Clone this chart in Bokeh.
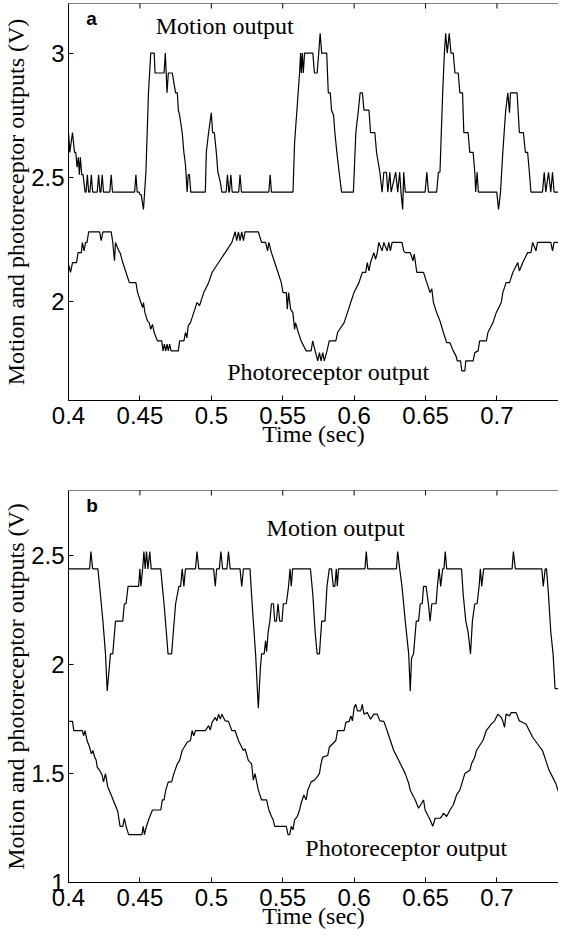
import math
from bokeh.plotting import figure
from bokeh.models import Range1d, FixedTicker, Label, Span, CustomJSTickFormatter
from bokeh.layouts import column
from bokeh.embed import file_html
from bokeh.resources import INLINE

# ---------------- data (time in s, output in V) ----------------
x_ticks = [0.4, 0.45, 0.5, 0.55, 0.6, 0.65, 0.7]
ya_ticks = [2, 2.5, 3]
yb_ticks = [1, 1.5, 2, 2.5]

# panel a: motion output
ma_t = [0.4000, 0.4009, 0.4028, 0.4042, 0.4051, 0.4060, 0.4069, 0.4076, 0.4083, 0.4093, 0.4102, 0.4116,
        0.4123, 0.4132, 0.4141, 0.4150, 0.4160, 0.4169, 0.4201, 0.4211, 0.4220, 0.4227, 0.4236, 0.4245,
        0.4289, 0.4299, 0.4308, 0.4463, 0.4472, 0.4481,
        0.4495, 0.4500, 0.4509, 0.4525, 0.4542, 0.4560, 0.4576, 0.4600, 0.4606, 0.4669, 0.4678, 0.4690,
        0.4699, 0.4727, 0.4738, 0.4750, 0.4762, 0.4769, 0.4778, 0.4796, 0.4808, 0.4819, 0.4831, 0.4838,
        0.4847, 0.4856, 0.4958, 0.4965, 0.4981, 0.5000, 0.5009, 0.5021, 0.5035, 0.5046, 0.5063, 0.5074,
        0.5104, 0.5113, 0.5123, 0.5127, 0.5137, 0.5146, 0.5192, 0.5201, 0.5211, 0.5403, 0.5412, 0.5421,
        0.5572, 0.5583, 0.5602, 0.5618, 0.5625, 0.5630, 0.5637, 0.5644, 0.5653, 0.5711, 0.5722, 0.5741,
        0.5752, 0.5762, 0.5773, 0.5808, 0.5819, 0.5833, 0.5842, 0.5856, 0.5865, 0.5879, 0.5895, 0.5912,
        0.5995, 0.6012, 0.6028, 0.6042, 0.6058, 0.6069, 0.6104, 0.6115, 0.6145, 0.6157, 0.6180, 0.6196,
        0.6208, 0.6226, 0.6236, 0.6250, 0.6259, 0.6291, 0.6305, 0.6319, 0.6328, 0.6340, 0.6347, 0.6358,
        0.6497, 0.6509, 0.6520, 0.6578, 0.6590, 0.6601, 0.6620, 0.6632, 0.6641, 0.6652, 0.6666, 0.6678,
        0.6694, 0.6706, 0.6729, 0.6740, 0.6759, 0.6768, 0.6798, 0.6810, 0.6833, 0.6845, 0.6851, 0.6861,
        0.6870, 0.6999, 0.7011, 0.7025, 0.7041, 0.7060, 0.7076, 0.7088, 0.7095, 0.7141, 0.7157, 0.7185,
        0.7199, 0.7215, 0.7227, 0.7238, 0.7319, 0.7331, 0.7342, 0.7361, 0.7377, 0.7389, 0.7400, 0.7430]
ma_v = [2.68, 2.60, 2.68, 2.60, 2.60, 2.54, 2.58, 2.51, 2.58, 2.51, 2.51, 2.44,
        2.44, 2.51, 2.44, 2.44, 2.51, 2.44, 2.44, 2.51, 2.44, 2.44, 2.51, 2.44,
        2.44, 2.51, 2.44, 2.44, 2.51, 2.44,
        2.44, 2.43, 2.43, 2.37, 2.52, 2.84, 3.00, 3.00, 2.92, 2.92, 3.00, 2.84,
        2.92, 2.92, 2.88, 2.84, 2.84, 2.77, 2.75, 2.68, 2.60, 2.55, 2.44, 2.51,
        2.51, 2.44, 2.44, 2.60, 2.68, 2.76, 2.68, 2.68, 2.60, 2.52, 2.48, 2.44,
        2.44, 2.51, 2.44, 2.44, 2.51, 2.44, 2.44, 2.51, 2.44, 2.44, 2.51, 2.44,
        2.44, 2.64, 2.79, 2.92, 3.00, 2.92, 3.00, 2.92, 3.00, 3.00, 2.92, 2.92,
        3.00, 3.08, 3.00, 3.00, 2.84, 2.84, 2.77, 2.75, 2.68, 2.60, 2.52, 2.44,
        2.44, 2.68, 2.76, 2.84, 2.84, 2.77, 2.77, 2.68, 2.68, 2.60, 2.52, 2.44,
        2.52, 2.52, 2.44, 2.52, 2.44, 2.52, 2.44, 2.52, 2.44, 2.37, 2.52, 2.44,
        2.44, 2.52, 2.44, 2.44, 2.52, 2.52, 2.84, 3.00, 3.08, 3.00, 3.08, 3.00,
        3.00, 2.92, 2.92, 2.84, 2.84, 2.68, 2.68, 2.60, 2.60, 2.52, 2.44, 2.52,
        2.44, 2.44, 2.37, 2.44, 2.60, 2.76, 2.84, 2.76, 2.84, 2.84, 2.68, 2.68,
        2.60, 2.60, 2.52, 2.44, 2.44, 2.52, 2.44, 2.52, 2.44, 2.52, 2.44, 2.44]

# panel a: photoreceptor output
pa_t = [0.4000, 0.4014, 0.4028, 0.4056, 0.4067, 0.4090, 0.4097, 0.4109, 0.4120, 0.4130, 0.4141, 0.4218,
        0.4229, 0.4241, 0.4299, 0.4310, 0.4322, 0.4329, 0.4352, 0.4361, 0.4380, 0.4403, 0.4426, 0.4472,
        0.4484, 0.4507, 0.4519, 0.4525, 0.4535, 0.4553, 0.4565, 0.4576, 0.4588, 0.4600, 0.4623, 0.4653,
        0.4662, 0.4671, 0.4681, 0.4690, 0.4699, 0.4708, 0.4718, 0.4769, 0.4778, 0.4808, 0.4819, 0.4829,
        0.4838, 0.4854, 0.4877, 0.4900, 0.4917, 0.4947, 0.4981, 0.5005, 0.5051, 0.5097, 0.5144, 0.5167,
        0.5178, 0.5190, 0.5201, 0.5213, 0.5225, 0.5236, 0.5329, 0.5352, 0.5380, 0.5394, 0.5403, 0.5421,
        0.5444, 0.5467, 0.5490, 0.5502, 0.5525, 0.5532, 0.5541, 0.5555, 0.5571, 0.5583, 0.5590, 0.5606,
        0.5629, 0.5664, 0.5699, 0.5710, 0.5727, 0.5745, 0.5757, 0.5768, 0.5780, 0.5791, 0.5810, 0.5826,
        0.5872, 0.5884, 0.5930, 0.5953, 0.5976, 0.5999, 0.6034, 0.6057, 0.6081, 0.6092, 0.6104, 0.6115,
        0.6138, 0.6150, 0.6162, 0.6173, 0.6196, 0.6208, 0.6231, 0.6243, 0.6254, 0.6266, 0.6335, 0.6347,
        0.6358, 0.6393, 0.6412, 0.6421, 0.6439, 0.6486, 0.6509, 0.6532, 0.6544, 0.6555, 0.6578, 0.6601,
        0.6625, 0.6648, 0.6671, 0.6694, 0.6713, 0.6722, 0.6745, 0.6754, 0.6775, 0.6782, 0.6833, 0.6845,
        0.6868, 0.6879, 0.6926, 0.6937, 0.6972, 0.6995, 0.7030, 0.7041, 0.7064, 0.7088, 0.7111, 0.7146,
        0.7157, 0.7181, 0.7215, 0.7238, 0.7250, 0.7273, 0.7284, 0.7377, 0.7389, 0.7400, 0.7430]
pa_v = [2.149, 2.116, 2.156, 2.156, 2.196, 2.196, 2.237, 2.203, 2.237, 2.237, 2.280, 2.280,
        2.244, 2.280, 2.280, 2.237, 2.163, 2.237, 2.203, 2.196, 2.156, 2.116, 2.075, 2.075,
        2.035, 1.995, 1.975, 1.995, 1.954, 1.921, 1.914, 1.887, 1.907, 1.874, 1.840, 1.840,
        1.800, 1.827, 1.800, 1.827, 1.800, 1.827, 1.800, 1.800, 1.840, 1.840, 1.874, 1.853,
        1.901, 1.914, 1.954, 1.995, 1.982, 2.035, 2.075, 2.116, 2.156, 2.196, 2.237, 2.280,
        2.244, 2.280, 2.244, 2.280, 2.244, 2.280, 2.280, 2.237, 2.237, 2.203, 2.237, 2.196,
        2.156, 2.116, 2.075, 2.035, 2.035, 1.968, 2.035, 1.968, 1.954, 1.887, 1.914, 1.880,
        1.840, 1.800, 1.800, 1.840, 1.800, 1.760, 1.793, 1.760, 1.793, 1.760, 1.800, 1.840,
        1.840, 1.874, 1.914, 1.954, 1.995, 2.035, 2.075, 2.116, 2.116, 2.156, 2.122, 2.156,
        2.196, 2.169, 2.196, 2.237, 2.203, 2.237, 2.203, 2.237, 2.203, 2.237, 2.237, 2.203,
        2.196, 2.196, 2.163, 2.190, 2.116, 2.116, 2.075, 2.035, 2.050, 1.995, 1.954, 1.921,
        1.874, 1.833, 1.833, 1.800, 1.780, 1.760, 1.760, 1.719, 1.719, 1.760, 1.760, 1.793,
        1.800, 1.840, 1.840, 1.874, 1.914, 1.954, 1.995, 2.035, 2.075, 2.075, 2.116, 2.156,
        2.122, 2.156, 2.196, 2.196, 2.237, 2.203, 2.237, 2.237, 2.203, 2.237, 2.237]

# panel b: motion output
mb_t = [0.4000, 0.4148, 0.4157, 0.4169, 0.4206, 0.4218, 0.4241, 0.4259, 0.4271, 0.4282, 0.4294, 0.4310,
        0.4329, 0.4380, 0.4391, 0.4403, 0.4417, 0.4491, 0.4500, 0.4507, 0.4519, 0.4528, 0.4537, 0.4546,
        0.4556, 0.4569, 0.4579, 0.4646, 0.4657, 0.4669, 0.4685, 0.4697, 0.4722, 0.4734, 0.4750, 0.4773,
        0.4785, 0.4796, 0.4808, 0.4819, 0.4889, 0.4900, 0.4912, 0.5016, 0.5028, 0.5037, 0.5056, 0.5067,
        0.5079, 0.5109, 0.5120, 0.5132, 0.5201, 0.5213, 0.5225, 0.5271, 0.5282, 0.5294, 0.5310, 0.5329,
        0.5343, 0.5352, 0.5370, 0.5380, 0.5387, 0.5398, 0.5410, 0.5421, 0.5435, 0.5444, 0.5456, 0.5467,
        0.5479, 0.5495, 0.5504, 0.5525, 0.5541, 0.5551, 0.5560, 0.5569, 0.5694, 0.5711, 0.5727, 0.5741,
        0.5757, 0.5773, 0.5796, 0.5810, 0.5826, 0.5842, 0.5854, 0.5865, 0.5875, 0.5882, 0.5891, 0.6076,
        0.6085, 0.6095, 0.6296, 0.6305, 0.6319, 0.6335, 0.6358, 0.6382, 0.6393, 0.6402, 0.6416, 0.6435,
        0.6451, 0.6463, 0.6477, 0.6486, 0.6504, 0.6520, 0.6532, 0.6544, 0.6574, 0.6583, 0.6595, 0.6606,
        0.6620, 0.6629, 0.6638, 0.6648, 0.6752, 0.6764, 0.6782, 0.6798, 0.6815, 0.6828, 0.6845, 0.6861,
        0.6875, 0.6884, 0.6893, 0.6907, 0.7106, 0.7115, 0.7129, 0.7314, 0.7324, 0.7338, 0.7347, 0.7361,
        0.7377, 0.7393, 0.7407, 0.7430]
mb_v = [2.44, 2.44, 2.52, 2.44, 2.44, 2.36, 2.20, 2.05, 1.88, 1.96, 2.05, 2.05,
        2.20, 2.20, 2.28, 2.28, 2.36, 2.36, 2.44, 2.36, 2.44, 2.52, 2.44, 2.52,
        2.44, 2.52, 2.44, 2.44, 2.36, 2.28, 2.15, 2.05, 2.05, 2.15, 2.28, 2.36,
        2.36, 2.44, 2.36, 2.44, 2.44, 2.52, 2.44, 2.44, 2.36, 2.44, 2.44, 2.52,
        2.44, 2.44, 2.52, 2.44, 2.44, 2.36, 2.44, 2.44, 2.32, 2.20, 2.05, 1.80,
        1.98, 2.05, 2.05, 2.11, 2.06, 2.15, 2.20, 2.28, 2.28, 2.20, 2.20, 2.28,
        2.20, 2.20, 2.28, 2.28, 2.36, 2.44, 2.36, 2.44, 2.44, 2.32, 2.15, 2.05,
        2.05, 2.20, 2.20, 2.36, 2.44, 2.44, 2.36, 2.36, 2.44, 2.36, 2.44, 2.44,
        2.52, 2.44, 2.44, 2.52, 2.44, 2.36, 2.20, 2.05, 1.88, 2.03, 2.05, 2.20,
        2.20, 2.28, 2.28, 2.36, 2.36, 2.28, 2.20, 2.28, 2.28, 2.36, 2.44, 2.36,
        2.44, 2.44, 2.52, 2.44, 2.44, 2.32, 2.20, 2.15, 2.05, 2.20, 2.28, 2.28,
        2.36, 2.44, 2.36, 2.44, 2.44, 2.52, 2.44, 2.44, 2.36, 2.44, 2.44, 2.32,
        2.15, 2.05, 1.89, 1.89]

# panel b: photoreceptor output
pb_t = [0.4000, 0.4028, 0.4037, 0.4097, 0.4106, 0.4116, 0.4130, 0.4148, 0.4160, 0.4171, 0.4183, 0.4194,
        0.4201, 0.4218, 0.4236, 0.4245, 0.4259, 0.4275, 0.4299, 0.4322, 0.4345, 0.4361, 0.4380, 0.4391,
        0.4403, 0.4421, 0.4514, 0.4523, 0.4532, 0.4546, 0.4565, 0.4588, 0.4646, 0.4657, 0.4669, 0.4681,
        0.4699, 0.4722, 0.4738, 0.4762, 0.4778, 0.4796, 0.4831, 0.4854, 0.4866, 0.4877, 0.4889, 0.4958,
        0.4981, 0.4993, 0.5005, 0.5028, 0.5039, 0.5051, 0.5063, 0.5074, 0.5097, 0.5120, 0.5144, 0.5167,
        0.5190, 0.5213, 0.5225, 0.5236, 0.5259, 0.5282, 0.5294, 0.5306, 0.5329, 0.5352, 0.5387, 0.5403,
        0.5421, 0.5433, 0.5444, 0.5525, 0.5537, 0.5549, 0.5560, 0.5572, 0.5583, 0.5602, 0.5618, 0.5629,
        0.5648, 0.5664, 0.5675, 0.5699, 0.5722, 0.5741, 0.5757, 0.5768, 0.5780, 0.5815, 0.5826, 0.5872,
        0.5884, 0.5930, 0.5942, 0.5965, 0.5977, 0.5988, 0.6000, 0.6011, 0.6023, 0.6046, 0.6057, 0.6069,
        0.6092, 0.6115, 0.6138, 0.6162, 0.6180, 0.6208, 0.6231, 0.6254, 0.6277, 0.6312, 0.6324, 0.6358,
        0.6382, 0.6393, 0.6416, 0.6428, 0.6451, 0.6486, 0.6497, 0.6520, 0.6532, 0.6551, 0.6567, 0.6601,
        0.6613, 0.6625, 0.6648, 0.6671, 0.6694, 0.6706, 0.6717, 0.6740, 0.6775, 0.6810, 0.6822, 0.6845,
        0.6856, 0.6902, 0.6925, 0.6960, 0.6983, 0.7006, 0.7030, 0.7041, 0.7053, 0.7064, 0.7088, 0.7099,
        0.7134, 0.7157, 0.7181, 0.7204, 0.7227, 0.7250, 0.7285, 0.7319, 0.7342, 0.7365, 0.7389, 0.7412,
        0.7430]
pb_v = [1.740, 1.740, 1.697, 1.697, 1.674, 1.697, 1.652, 1.621, 1.591, 1.606, 1.576, 1.561,
        1.530, 1.515, 1.492, 1.462, 1.500, 1.439, 1.402, 1.364, 1.326, 1.258, 1.258, 1.295,
        1.258, 1.220, 1.220, 1.258, 1.220, 1.258, 1.295, 1.333, 1.333, 1.379, 1.379, 1.424,
        1.462, 1.462, 1.500, 1.545, 1.561, 1.606, 1.644, 1.652, 1.697, 1.674, 1.697, 1.697,
        1.720, 1.700, 1.735, 1.758, 1.742, 1.773, 1.750, 1.773, 1.742, 1.740, 1.697, 1.697,
        1.652, 1.621, 1.606, 1.614, 1.561, 1.545, 1.470, 1.500, 1.424, 1.379, 1.379, 1.333,
        1.303, 1.288, 1.258, 1.258, 1.220, 1.220, 1.258, 1.242, 1.288, 1.303, 1.333, 1.364,
        1.402, 1.379, 1.424, 1.462, 1.470, 1.485, 1.500, 1.545, 1.576, 1.583, 1.621, 1.652,
        1.697, 1.697, 1.735, 1.740, 1.765, 1.742, 1.803, 1.818, 1.788, 1.788, 1.818, 1.773,
        1.780, 1.750, 1.773, 1.773, 1.742, 1.740, 1.697, 1.652, 1.606, 1.561, 1.545, 1.500,
        1.455, 1.424, 1.394, 1.379, 1.341, 1.379, 1.333, 1.303, 1.288, 1.258, 1.295, 1.295,
        1.303, 1.318, 1.303, 1.333, 1.356, 1.379, 1.402, 1.424, 1.500, 1.515, 1.545, 1.576,
        1.606, 1.652, 1.697, 1.727, 1.742, 1.773, 1.758, 1.742, 1.712, 1.773, 1.765, 1.780,
        1.780, 1.742, 1.735, 1.727, 1.697, 1.667, 1.636, 1.606, 1.561, 1.515, 1.485, 1.455,
        1.417]

X_RANGE = (0.4, 0.7431)
YA_RANGE = (1.6, 3.2)
YB_RANGE = (1.0, 2.8)

SANS = "Liberation Sans"
SERIF = "Liberation Serif"
fmt_code = "return String(Math.round(tick*100)/100);"


def style_axis(ax, label_standoff, axis_label_standoff):
    ax.major_tick_in = 5
    ax.major_tick_out = 0
    ax.minor_tick_line_color = None
    ax.axis_line_color = "black"
    ax.major_tick_line_color = "black"
    ax.major_label_text_font = SANS
    ax.major_label_text_font_size = "24px"
    ax.major_label_text_color = "black"
    ax.major_label_standoff = label_standoff
    ax.axis_label_text_font = SERIF
    ax.axis_label_text_font_size = "24px"
    ax.axis_label_text_font_style = "normal"
    ax.axis_label_text_color = "black"
    ax.axis_label_standoff = axis_label_standoff


def make_panel(height, top, bottom, y_range, y_ticks, mt, mv, pt, pv, letter, letter_pos, motion_pos, photo_pos):
    p = figure(width=558, height=height, x_range=Range1d(*X_RANGE), y_range=Range1d(*y_range),
               output_backend="svg", toolbar_location=None,
               min_border_left=64, min_border_right=0, min_border_top=top, min_border_bottom=bottom)
    p.outline_line_color = None
    p.grid.visible = False
    p.background_fill_color = "white"
    p.border_fill_color = "white"

    p.xaxis.ticker = FixedTicker(ticks=x_ticks)
    p.yaxis.ticker = FixedTicker(ticks=y_ticks)
    p.xaxis.formatter = CustomJSTickFormatter(code=fmt_code)
    p.yaxis.formatter = CustomJSTickFormatter(code=fmt_code)
    p.xaxis.axis_label = "Time (sec)"
    p.yaxis.axis_label = "Motion and photoreceptor outputs (V)"
    for ax in p.xaxis:
        style_axis(ax, 6, -6)
    for ax in p.yaxis:
        style_axis(ax, 4, -1)

    # top frame edge with inward ticks (no labels)
    p.add_layout(Span(location=y_range[1], dimension="width", line_color="black", line_width=1))
    p.scatter(x_ticks, [y_range[1]] * len(x_ticks), marker="dash", angle=math.pi / 2, size=10,
              line_color="black", line_width=1)

    p.line(mt, mv, line_color="black", line_width=1.2)
    p.line(pt, pv, line_color="black", line_width=1.2)

    p.add_layout(Label(x=letter_pos[0], y=letter_pos[1], text=letter, text_font=SANS,
                       text_font_style="bold", text_font_size="19px", text_color="black"))
    p.add_layout(Label(x=motion_pos[0], y=motion_pos[1], text="Motion output", text_font=SERIF,
                       text_font_size="24px", text_color="black"))
    p.add_layout(Label(x=photo_pos[0], y=photo_pos[1], text="Photoreceptor output", text_font=SERIF,
                       text_font_size="24px", text_color="black"))
    return p


pa = make_panel(453, 3, 53, YA_RANGE, ya_ticks, ma_t, ma_v, pa_t, pa_v,
                "a", (0.4125, 3.096), (0.4611, 3.056), (0.5111, 1.661))
pb = make_panel(482, 37, 53, YB_RANGE, yb_ticks, mb_t, mb_v, pb_t, pb_v,
                "b", (0.4125, 2.685), (0.5387, 2.568), (0.5658, 1.099))

layout = column(pa, pb, spacing=0)
open("out.html", "w").write(file_html(layout, INLINE))
